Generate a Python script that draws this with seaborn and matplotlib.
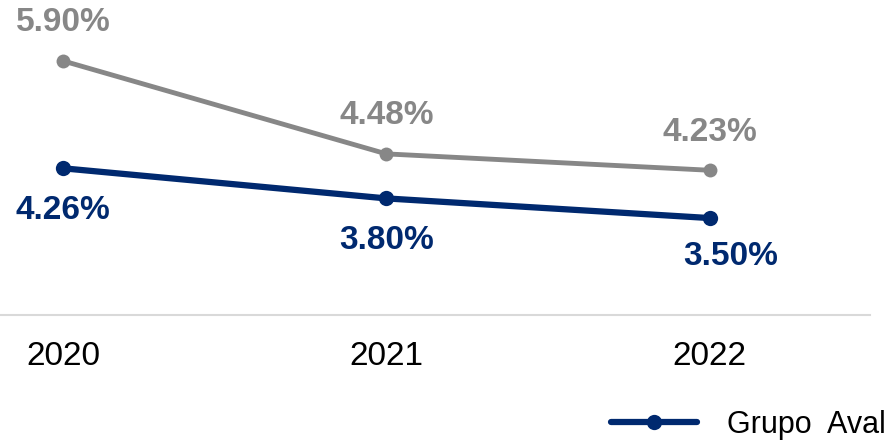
import matplotlib
matplotlib.use('Agg')
import matplotlib.pyplot as plt
import pandas as pd
import seaborn as sns

years = ['2020', '2021', '2022']
grupo_aval = [4.26, 3.80, 3.50]
sistema = [5.90, 4.48, 4.23]

navy = '#00296F'
grey = '#878787'

sns.set_style('white')
plt.rcParams['font.family'] = ['Liberation Sans', 'DejaVu Sans']

df = pd.DataFrame({'year': years, 'Grupo Aval': grupo_aval, 'Sistema': sistema})
df['x'] = range(len(years))

fig = plt.figure(figsize=(8.91, 4.43), dpi=100)
ax = fig.add_axes([0, 0.289, 0.976, 0.711])

sns.lineplot(data=df, x='x', y='Sistema', ax=ax, color=grey, lw=3.5,
             marker='o', markersize=10, markeredgewidth=0, legend=False)
sns.lineplot(data=df, x='x', y='Grupo Aval', ax=ax, color=navy, lw=4.5,
             marker='o', markersize=11, markeredgewidth=0, label='Grupo  Aval')

for i, v in enumerate(sistema):
    ax.annotate(f'{v:.2f}%', (i, v), xytext=(0, 27.5), textcoords='offset points',
                ha='center', va='center', fontsize=24, fontweight='bold', color=grey)
navy_offsets = [(0, -30.5), (0, -30.5), (15, -28)]
for i, v in enumerate(grupo_aval):
    ax.annotate(f'{v:.2f}%', (i, v), xytext=navy_offsets[i], textcoords='offset points',
                ha='center', va='center', fontsize=24, fontweight='bold', color=navy)

ax.set_xlim(-0.195, 2.495)
ax.set_ylim(2.02, 6.83)
ax.set_xticks(df['x'])
ax.set_xticklabels(years, fontsize=24, color='black')
ax.tick_params(axis='x', length=0, pad=19)
ax.set_yticks([])
ax.set_xlabel('')
ax.set_ylabel('')
for s in ['top', 'left', 'right']:
    ax.spines[s].set_visible(False)
ax.spines['bottom'].set_color('#D9D9D9')
ax.spines['bottom'].set_linewidth(1.5)

ax.get_legend().remove()
leg = fig.legend(*ax.get_legend_handles_labels(), loc='center left',
                 bbox_to_anchor=(0.686, 0.041), frameon=False, fontsize=22,
                 handlelength=2.8, handletextpad=1.0, borderpad=0, borderaxespad=0)
for t in leg.get_texts():
    t.set_color('black')

fig.savefig('out.png', dpi=100)
